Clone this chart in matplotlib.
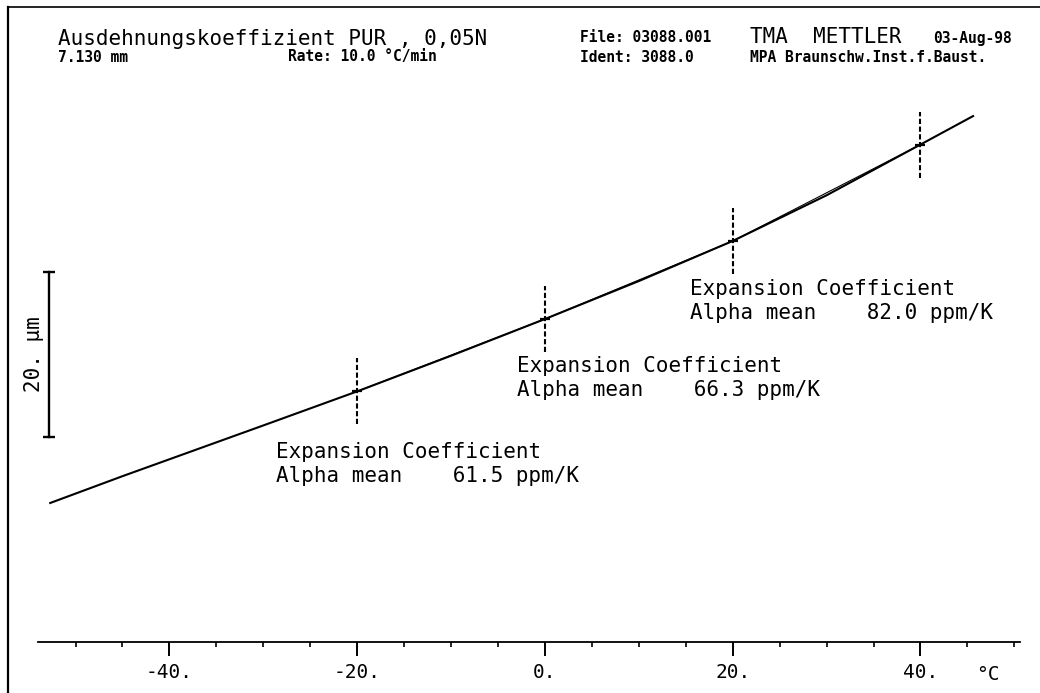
import numpy as np
import matplotlib
matplotlib.use("Agg")
import matplotlib.pyplot as plt
from matplotlib.lines import Line2D

plt.rcParams['font.family'] = ['DejaVu Sans Mono']

# TMA run: sample length and measured length change (um, zero at 0 degC)
sample_length_mm = 7.130
temperature = [-52.7, -45, -40, -30, -20, -10, 0, 10, 20, 30, 40, 45.6]
length_change = [-22.3, -19.05, -17.0, -12.9, -8.77, -4.45, 0.0, 4.6, 9.46, 15.0, 21.15, 24.6]

# mean expansion coefficients evaluated over 20 K steps
alpha_ranges = [(-20, 0), (0, 20), (20, 40)]
alpha_mean_ppm = [61.5, 66.3, 82.0]

x_ticks = [-40, -20, 0, 20, 40]
scale_bar_um = 20

# length change at the range limits follows from the mean coefficients
eval_temps = [alpha_ranges[0][0]] + [r[1] for r in alpha_ranges]
eval_dl = [0.0]
for (t0, t1), a in zip(alpha_ranges, alpha_mean_ppm):
    eval_dl.append(eval_dl[-1] + a * 1e-6 * sample_length_mm * 1e3 * (t1 - t0))
eval_dl = np.array(eval_dl) - eval_dl[1]

W, H = 1040, 693
fig = plt.figure(figsize=(W / 100, H / 100), dpi=100)
ax = fig.add_axes([38 / W, (H - 642) / H, (1020 - 38) / W, 642 / H])
ax.set_xlim(-54.0, 50.6)
ax.set_ylim(-39.15, 38.67)

for side in ['top', 'right', 'left']:
    ax.spines[side].set_visible(False)
ax.spines['bottom'].set_linewidth(1.3)
ax.set_yticks([])
ax.set_xticks(x_ticks)
ax.set_xticklabels([f"{t}." for t in x_ticks], fontsize=14)
ax.set_xticks(np.arange(-50, 51, 5), minor=True)
ax.tick_params(axis='x', which='major', direction='out', length=10, width=1.4, pad=5)
ax.tick_params(axis='x', which='minor', direction='out', length=3.5, width=1.2)

# measured curve and secants of the mean coefficients
ax.plot(temperature, length_change, color='black', lw=1.5)
ax.plot(eval_temps, eval_dl, color='black', lw=0.8)

# evaluation limits
for t, d in zip(eval_temps, eval_dl):
    ax.plot([t, t], [d - 4.0, d + 4.0], color='black', lw=1.5, ls=(0, (2.5, 1.2)))
    ax.plot([t], [d], marker='_', ms=7, mew=1.6, color='black')

# result texts
label_pos = [(-28.7, -14.9), (-3.0, -4.5), (15.5, 4.8)]
for (tx, ty), a in zip(label_pos, alpha_mean_ppm):
    ax.text(tx, ty, "Expansion Coefficient\nAlpha mean    %.1f ppm/K" % a,
            fontsize=15, va='top', ha='left', linespacing=1.25)

# length scale bar
bar_t = -52.8
bar_lo = -14.3
ax.plot([bar_t, bar_t], [bar_lo, bar_lo + scale_bar_um], color='black', lw=1.7,
        clip_on=False)
ax.plot([bar_t, bar_t], [bar_lo, bar_lo + scale_bar_um], ls='none', marker='_',
        ms=9, mew=1.7, color='black', clip_on=False)
ax.text(-54.4, bar_lo + scale_bar_um / 2, f"{scale_bar_um}. µm", rotation=90,
        fontsize=15, ha='center', va='center', clip_on=False)

# temperature unit at the end of the axis
ax.text(47.2, -41.9, "°C", fontsize=14, ha='center', va='top', clip_on=False)


def px(x, y):
    return x / W, 1 - y / H


# header block
fig.text(*px(58, 39), "Ausdehnungskoeffizient PUR , 0,05N", fontsize=15, va='center')
fig.text(*px(58, 57), "7.130 mm", fontsize=10.5, weight='bold', va='center')
fig.text(*px(288, 57), "Rate: 10.0 °C/min", fontsize=10.5, weight='bold', va='center')
fig.text(*px(580, 38), "File: 03088.001", fontsize=10.5, weight='bold', va='center')
fig.text(*px(750, 37), "TMA  METTLER", fontsize=15, va='center')
fig.text(*px(933, 38), "03-Aug-98", fontsize=10.5, weight='bold', va='center')
fig.text(*px(580, 57), "Ident: 3088.0", fontsize=10.5, weight='bold', va='center')
fig.text(*px(750, 57), "MPA Braunschw.Inst.f.Baust.", fontsize=10.5, weight='bold',
         va='center')

# page frame
fig.add_artist(Line2D([8 / W, 8 / W], [0, 1 - 7 / H], transform=fig.transFigure,
                      color='black', lw=1.6))
fig.add_artist(Line2D([8 / W, 1], [1 - 7 / H, 1 - 7 / H], transform=fig.transFigure,
                      color='black', lw=1.2))

fig.savefig("out.png", dpi=100, facecolor='white')
